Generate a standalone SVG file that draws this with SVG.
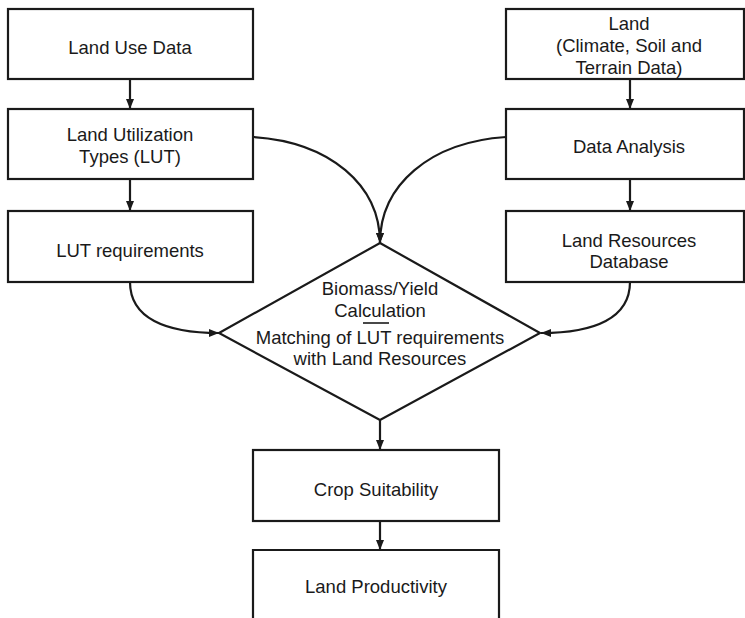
<svg xmlns="http://www.w3.org/2000/svg" width="745" height="618" viewBox="0 0 745 618">
<defs>
<marker id="ah" viewBox="0 0 10 8" refX="10" refY="4" markerWidth="11" markerHeight="8" markerUnits="userSpaceOnUse" orient="auto">
<path d="M0,0 L10,4 L0,8 Z" fill="#1a1a1a"/>
</marker>
</defs>
<style>
.box{fill:#fff;stroke:#1a1a1a;stroke-width:2.2}
.t{font-family:"Liberation Sans",Arial,sans-serif;font-size:18.5px;fill:#1a1a1a;text-anchor:middle}
.c{fill:none;stroke:#1a1a1a;stroke-width:2.2;marker-end:url(#ah)}
</style>
<rect width="745" height="618" fill="#fff"/>
<g id="connectors">
<path class="c" d="M130,79 L130,109"/>
<path class="c" d="M130,179 L130,211"/>
<path class="c" d="M630,79 L630,109"/>
<path class="c" d="M630,179 L630,211"/>
<path class="c" d="M253,137 C330,142 380,185 380,243"/>
<path class="c" d="M506,137 C430,142 380,185 380,243"/>
<path class="c" d="M130,282 C130,318 165,333 219,333"/>
<path class="c" d="M630,282 C630,318 595,333 541,333"/>
<path class="c" d="M380,420 L380,450"/>
<path class="c" d="M380,521 L380,550"/>
</g>
<g id="n1"><rect class="box" x="8" y="9" width="245" height="70"/><text class="t" x="130" y="54">Land Use Data</text></g>
<g id="n2"><rect class="box" x="8" y="109" width="245" height="70"/><text class="t" x="130" y="141">Land Utilization</text><text class="t" x="130" y="163">Types (LUT)</text></g>
<g id="n3"><rect class="box" x="8" y="211" width="245" height="71"/><text class="t" x="130" y="257">LUT requirements</text></g>
<g id="n4"><rect class="box" x="506" y="9" width="238" height="70"/><text class="t" x="629" y="30">Land</text><text class="t" x="629" y="52">(Climate, Soil and</text><text class="t" x="629" y="74">Terrain Data)</text></g>
<g id="n5"><rect class="box" x="506" y="109" width="238" height="70"/><text class="t" x="629" y="153">Data Analysis</text></g>
<g id="n6"><rect class="box" x="506" y="211" width="238" height="71"/><text class="t" x="629" y="247">Land Resources</text><text class="t" x="629" y="268">Database</text></g>
<g id="n7"><path class="box" d="M380,243 L540,333 L380,420 L219,333 Z"/>
<text class="t" x="380" y="295">Biomass/Yield</text>
<text class="t" x="380" y="317">Calculation</text>
<line x1="363" y1="323" x2="389" y2="323" stroke="#1a1a1a" stroke-width="1.6"/>
<text class="t" x="380" y="344">Matching of LUT requirements</text>
<text class="t" x="380" y="365">with Land Resources</text></g>
<g id="n8"><rect class="box" x="253" y="450" width="246" height="71"/><text class="t" x="376" y="496">Crop Suitability</text></g>
<g id="n9"><path class="box" d="M253,620 L253,550 L499,550 L499,620"/><text class="t" x="376" y="593">Land Productivity</text></g>
</svg>
